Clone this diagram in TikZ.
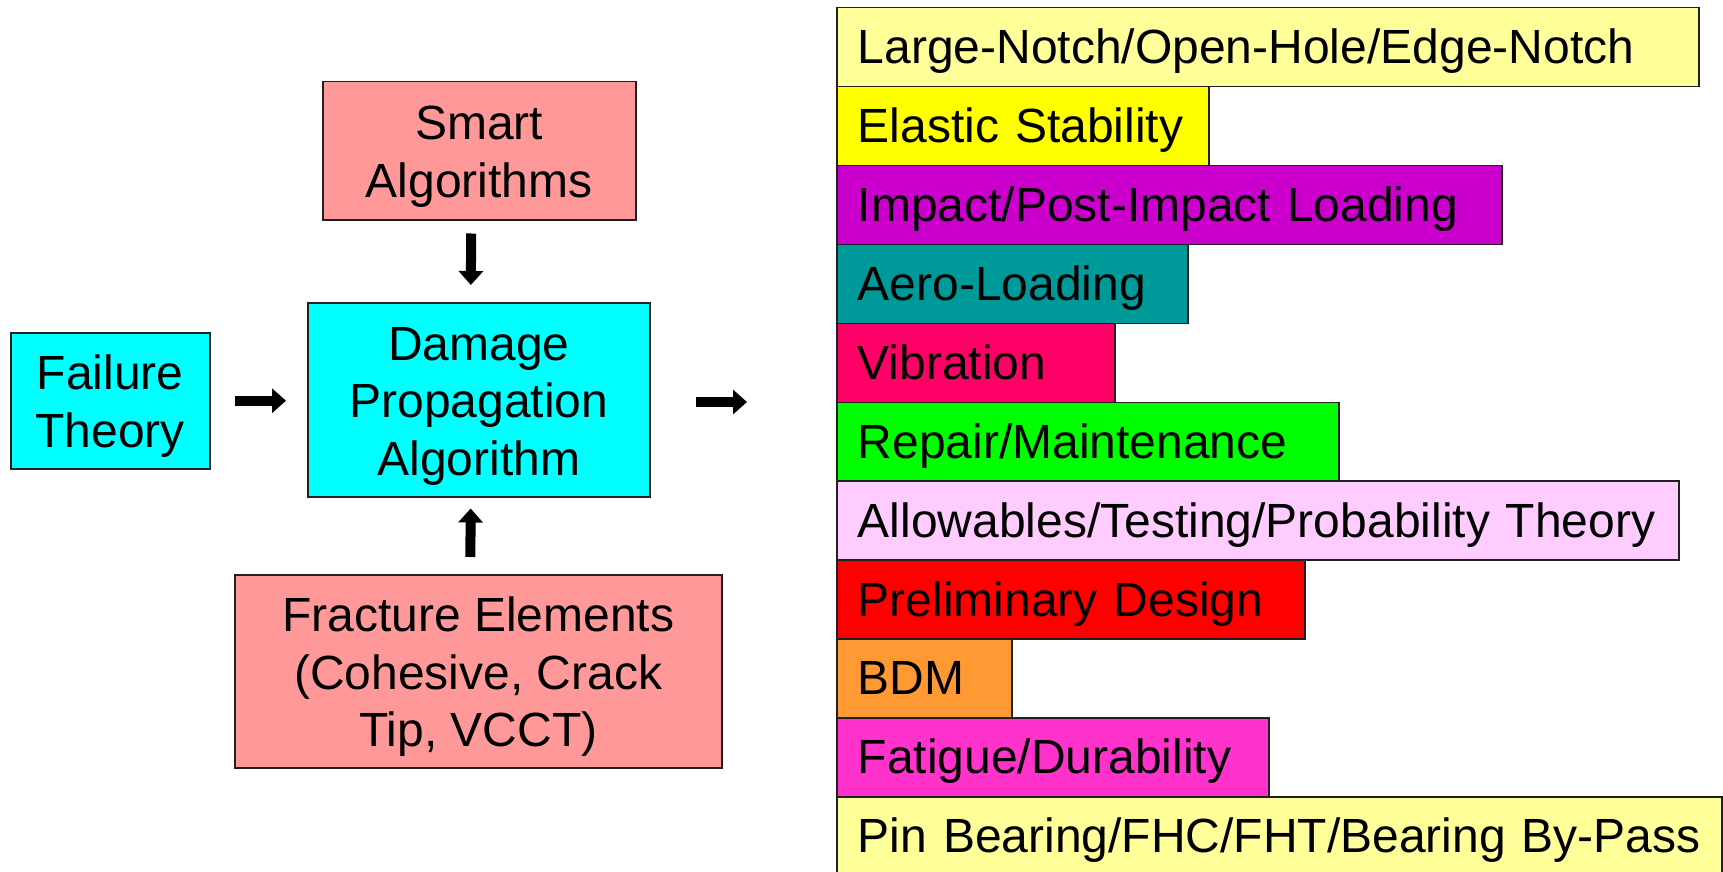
\documentclass[tikz,border=0pt]{standalone}
\usepackage{fontspec}
\setmainfont{Liberation Sans}
\usetikzlibrary{arrows.meta}
\definecolor{lyel}{HTML}{FFFF99}
\definecolor{yel}{HTML}{FFFF00}
\definecolor{mag}{HTML}{CC00CC}
\definecolor{teal2}{HTML}{009999}
\definecolor{vib}{HTML}{FF0066}
\definecolor{grn}{HTML}{00FF00}
\definecolor{lpink}{HTML}{FFCCFF}
\definecolor{red2}{HTML}{FF0000}
\definecolor{orng}{HTML}{FF9933}
\definecolor{fpink}{HTML}{FF33CC}
\definecolor{salmon}{HTML}{FF9999}
\definecolor{cyanc}{HTML}{00FFFF}
\definecolor{edge}{HTML}{202020}
\newcommand{\topstrut}{\rule{0pt}{46pt}}
\tikzset{
  bigfont/.style={font=\fontsize{48}{57.6}\selectfont},
  box/.style={draw=edge, line width=1.5pt, align=center, inner sep=0pt, anchor=north west, bigfont},
  bar/.style={draw=edge, line width=1.5pt, anchor=north west, inner xsep=21pt, inner ysep=0pt,
    align=left, minimum height=79pt, text height=47pt, text depth=14pt, bigfont},
  blk/.style={line width=10pt, -{Triangle[length=14pt,width=24pt]}},
}
\begin{document}
\begin{tikzpicture}[x=1pt,y=-1pt]
\useasboundingbox (0,0) rectangle (1723,872);
\fill[white] (0,0) rectangle (1723,872);

\node[box, fill=salmon, minimum width=313pt, minimum height=138pt] (smart) at (322,81) {\topstrut Smart\\Algorithms};
\node[box, fill=cyanc, minimum width=342pt, minimum height=194pt] (dmg) at (307,302) {\topstrut Damage\\Propagation\\Algorithm};
\node[box, fill=cyanc, minimum width=199pt, minimum height=136pt] (fail) at (10,332) {\topstrut Failure\\Theory};
\node[box, fill=salmon, minimum width=487pt, minimum height=193pt] (frac) at (234,574) {\topstrut Fracture Elements\\(Cohesive, Crack\\Tip, VCCT)};

\node[bar, fill=lyel,  text width=820pt] (b1)  at (836,7)     {Large-Notch/Open-Hole/Edge-Notch};
\node[bar, fill=yel,   text width=330pt] (b2)  at (836,85.9)  {Elastic Stability};
\node[bar, fill=mag,   text width=623pt] (b3)  at (836,164.8) {Impact/Post-Impact Loading};
\node[bar, fill=teal2, text width=309pt] (b4)  at (836,243.7) {Aero-Loading};
\node[bar, fill=vib,   text width=236pt] (b5)  at (836,322.6) {Vibration};
\node[bar, fill=grn,   text width=460pt] (b6)  at (836,401.5) {Repair/Maintenance};
\node[bar, fill=lpink, text width=800pt] (b7)  at (836,480.4) {Allowables/Testing/Probability Theory};
\node[bar, fill=red2,  text width=426pt] (b8)  at (836,559.3) {Preliminary Design};
\node[bar, fill=orng,  text width=133pt] (b9)  at (836,638.2) {BDM};
\node[bar, fill=fpink, text width=390pt] (b10) at (836,717.1) {Fatigue/Durability};
\node[bar, fill=lyel,  text width=843pt] (b11) at (836,796) {Pin Bearing/FHC/FHT/Bearing By-Pass};

\coordinate (tgt) at (747,402);
\draw[blk, shorten <=24pt, shorten >=21pt] (fail.east) -- (fail.east -| dmg.west);
\draw[blk, shorten <=45pt] (dmg.east |- tgt) -- (tgt);
\draw[blk, shorten <=13pt, shorten >=17pt] ([xshift=-8pt]smart.south) -- ([xshift=-8pt]dmg.north);
\draw[blk, shorten <=17pt, shorten >=11pt] ([xshift=-8pt]frac.north) -- ([xshift=-8pt]dmg.south);
\end{tikzpicture}
\end{document}
